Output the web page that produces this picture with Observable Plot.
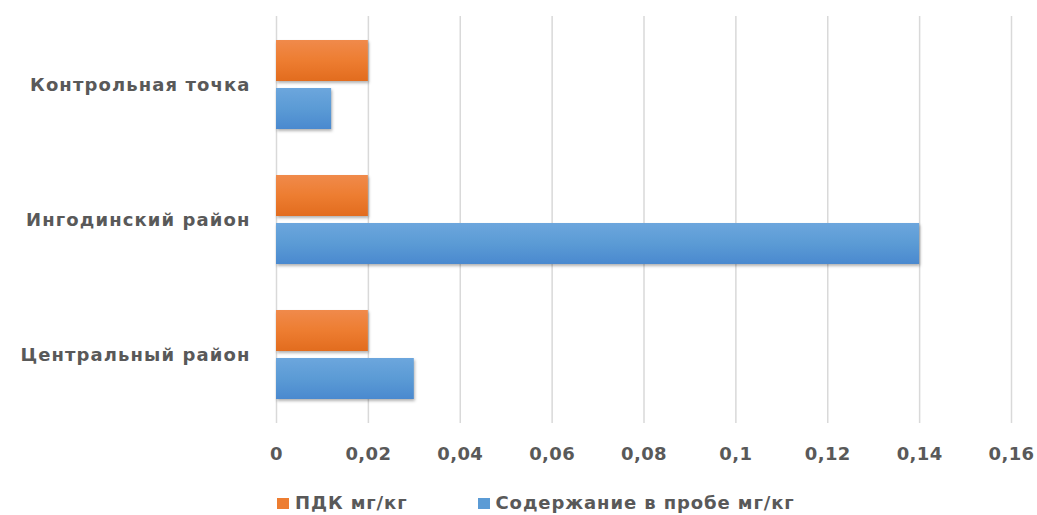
<!DOCTYPE html>
<html><head><meta charset="utf-8">
<script src="https://cdn.jsdelivr.net/npm/d3@7"></script>
<script src="https://cdn.jsdelivr.net/npm/@observablehq/plot@0.6"></script>
<style>
body{margin:0;background:#fff;font-family:"DejaVu Sans",sans-serif;}
svg{display:block;}
svg g[aria-label="y-axis tick label"] text{letter-spacing:1.1px;}
svg g[aria-label="x-axis tick label"] text{letter-spacing:0.4px;}
#legend{display:flex;align-items:center;margin-left:277px;padding-top:11px;height:24px;font-size:18px;font-weight:700;color:#595959;line-height:24px;letter-spacing:0.9px;}
.item{display:flex;align-items:center;margin-right:70px;}
.sw{width:12px;height:11px;margin-right:6px;}
</style></head><body><div id="chart"></div><div id="legend"></div><script>
const categories = ["Контрольная точка", "Ингодинский район", "Центральный район"];
const series = ["ПДК мг/кг", "Содержание в пробе мг/кг"];
const pdkValues = [0.02, 0.02, 0.02];
const sampleValues = [0.012, 0.14, 0.03];
const xTicks = [0, 0.02, 0.04, 0.06, 0.08, 0.1, 0.12, 0.14, 0.16];
const colors = ["#ED7D31", "#5B9BD5"];

const pdkData = categories.map((c, i) => ({category: c, value: pdkValues[i]}));
const sampleData = categories.map((c, i) => ({category: c, value: sampleValues[i]}));
const fmt = d => String(d).replace(".", ",");

const chart = Plot.plot({
  width: 1037, height: 480,
  marginTop: 16, marginBottom: 57, marginLeft: 276, marginRight: 26,
  style: {fontFamily: "'DejaVu Sans', sans-serif", fontSize: "18px", fontWeight: 700, color: "#595959", background: "#fff"},
  x: {domain: [0, 0.16], ticks: xTicks, tickFormat: fmt, tickSize: 0, tickPadding: 24, label: null},
  y: {domain: categories, paddingInner: 0.344, paddingOuter: 0.172, tickSize: 0, tickPadding: 26, label: null},
  marks: [
    Plot.ruleX(xTicks, {stroke: "#d9d9d9", strokeWidth: 1.5}),
    Plot.barX(pdkData, {x: "value", y: "category", fill: "url(#gradO)", insetBottom: 48}),
    Plot.barX(sampleData, {x: "value", y: "category", fill: "url(#gradB)", insetTop: 48})
  ]
});
d3.select(chart).insert("defs", ":first-child").html(`
  <linearGradient id="gradO" x1="0" y1="0" x2="0" y2="1">
    <stop offset="0" stop-color="#F08A4B"/><stop offset="0.5" stop-color="${colors[0]}"/><stop offset="1" stop-color="#E26C1E"/>
  </linearGradient>
  <linearGradient id="gradB" x1="0" y1="0" x2="0" y2="1">
    <stop offset="0" stop-color="#6CA6DD"/><stop offset="0.5" stop-color="${colors[1]}"/><stop offset="1" stop-color="#4A89CF"/>
  </linearGradient>`);
chart.querySelectorAll("g[aria-label='bar']").forEach(g => g.style.filter = "drop-shadow(1px 2px 1.5px rgba(0,0,0,0.3))");
document.getElementById("chart").appendChild(chart);

const legend = document.getElementById("legend");
series.forEach((s, i) => {
  const item = document.createElement("div"); item.className = "item";
  const sw = document.createElement("div"); sw.className = "sw"; sw.style.background = colors[i];
  const t = document.createElement("span"); t.textContent = s;
  item.appendChild(sw); item.appendChild(t); legend.appendChild(item);
});
</script></body></html>
